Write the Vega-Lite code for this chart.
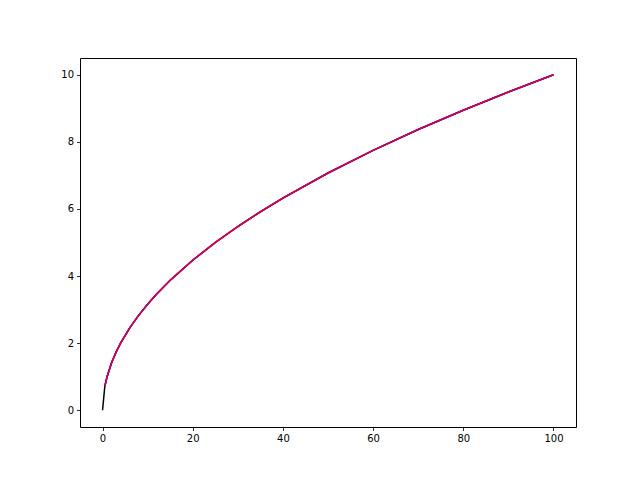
{
  "$schema": "https://vega.github.io/schema/vega-lite/v6.json",
  "width": 496,
  "height": 369,
  "autosize": {"type": "none"},
  "padding": {"left": 80, "top": 58, "right": 64, "bottom": 53},
  "background": "white",
  "config": {
    "view": {"stroke": "black", "strokeWidth": 1},
    "font": "DejaVu Sans",
    "axis": {
      "grid": false,
      "domain": false,
      "tickColor": "black",
      "tickSize": 3.5,
      "tickWidth": 0.8,
      "labelColor": "black",
      "labelFontSize": 10,
      "labelFont": "DejaVu Sans",
      "labelPadding": 3,
      "title": null
    }
  },
  "datasets": {
    "pts": [
      {"x": 0, "y": 0},
      {"x": 0.5, "y": 0.707},
      {"x": 1, "y": 1},
      {"x": 2, "y": 1.414},
      {"x": 3, "y": 1.732},
      {"x": 4, "y": 2},
      {"x": 6, "y": 2.449},
      {"x": 8, "y": 2.828},
      {"x": 10, "y": 3.162},
      {"x": 12, "y": 3.464},
      {"x": 15, "y": 3.873},
      {"x": 20, "y": 4.472},
      {"x": 25, "y": 5},
      {"x": 30, "y": 5.477},
      {"x": 35, "y": 5.916},
      {"x": 40, "y": 6.325},
      {"x": 50, "y": 7.071},
      {"x": 60, "y": 7.746},
      {"x": 70, "y": 8.367},
      {"x": 80, "y": 8.944},
      {"x": 90, "y": 9.487},
      {"x": 100, "y": 10}
    ]
  },
  "layer": [
    {
      "data": {"name": "pts"},
      "mark": {"type": "line", "color": "black", "strokeWidth": 1.5},
      "encoding": {
        "x": {"field": "x", "type": "quantitative", "scale": {"domain": [-5, 105], "nice": false, "zero": false}, "axis": {"values": [0, 20, 40, 60, 80, 100]}},
        "y": {"field": "y", "type": "quantitative", "scale": {"domain": [-0.5, 10.5], "nice": false, "zero": false}, "axis": {"values": [0, 2, 4, 6, 8, 10]}}
      }
    },
    {
      "data": {"name": "pts"},
      "transform": [{"filter": "datum.x >= 0.5"}],
      "mark": {"type": "line", "color": "#0000ff", "strokeWidth": 1.5},
      "encoding": {
        "x": {"field": "x", "type": "quantitative"},
        "y": {"field": "y", "type": "quantitative"}
      }
    },
    {
      "data": {"name": "pts"},
      "transform": [{"filter": "datum.x >= 0.5"}],
      "mark": {"type": "line", "color": "#dc0045", "strokeWidth": 1.6},
      "encoding": {
        "x": {"field": "x", "type": "quantitative"},
        "y": {"field": "y", "type": "quantitative"}
      }
    }
  ]
}
